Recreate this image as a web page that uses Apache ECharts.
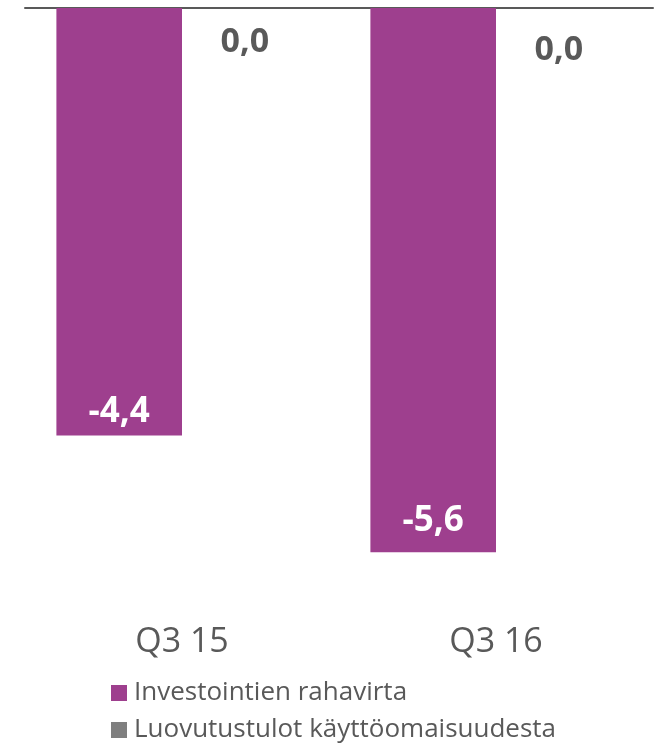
<!DOCTYPE html>
<html>
<head>
<meta charset="utf-8">
<script src="https://cdn.jsdelivr.net/npm/echarts@6/dist/echarts.min.js"></script>
<style>
  html, body { margin: 0; padding: 0; background: #fff; }
  #chart { width: 662px; height: 745px; }
</style>
</head>
<body>
<div id="chart"></div>
<script>
// Quarterly cash flow figures (EUR million)
const categories = ['Q3 15', 'Q3 16'];
const investointienRahavirta = [-4.4, -5.6];
const luovutustulot = [0.0, 0.0];
const seriesNames = ['Investointien rahavirta', 'Luovutustulot käyttöomaisuudesta'];

const FONT = '"Open Sans", sans-serif';
const TEXT = '#595959';
const PURPLE = '#9E3F8E';
const GREY = '#7F7F7F';

const fmt = p => p.value.toFixed(1).replace('.', ',');

const chart = echarts.init(document.getElementById('chart'));
chart.setOption({
  animation: false,
  textStyle: { fontFamily: FONT },
  grid: { left: 25, right: 9, top: 8, bottom: 154 },
  xAxis: [
    {
      type: 'category',
      data: categories,
      position: 'top',
      axisLine: { show: true, onZero: false, lineStyle: { color: '#595959', width: 2 } },
      axisTick: { show: false },
      axisLabel: { show: false }
    },
    {
      type: 'category',
      data: categories,
      position: 'bottom',
      axisLine: { show: false },
      axisTick: { show: false },
      axisLabel: {
        margin: 34,
        color: TEXT,
        fontFamily: FONT,
        fontSize: 34
      }
    }
  ],
  yAxis: {
    type: 'value',
    min: -6,
    max: 0,
    show: false,
    splitLine: { show: false }
  },
  legend: {
    orient: 'vertical',
    left: 111,
    top: 680,
    width: 540,
    height: 120,
    padding: 0,
    itemWidth: 16,
    itemHeight: 16,
    itemGap: 11,
    icon: 'rect',
    data: seriesNames,
    textStyle: {
      color: TEXT,
      fontFamily: FONT,
      fontSize: 26,
      lineHeight: 26,
      padding: [0, 0, 0, 2]
    }
  },
  series: [
    {
      name: seriesNames[0],
      type: 'bar',
      xAxisIndex: 0,
      barGap: '0%',
      barCategoryGap: '20%',
      itemStyle: { color: PURPLE },
      label: {
        show: true,
        position: 'insideBottom',
        distance: 12,
        color: '#ffffff',
        fontWeight: 'bold',
        fontFamily: FONT,
        fontSize: 35,
        lineHeight: 35,
        formatter: fmt
      },
      data: [
        { value: investointienRahavirta[0], label: { distance: 6 } },
        { value: investointienRahavirta[1], label: { distance: 14 } }
      ]
    },
    {
      name: seriesNames[1],
      type: 'bar',
      xAxisIndex: 0,
      barGap: '0%',
      barCategoryGap: '20%',
      itemStyle: { color: GREY },
      label: {
        show: true,
        position: 'bottom',
        color: TEXT,
        fontWeight: 'bold',
        fontFamily: FONT,
        fontSize: 34,
        lineHeight: 34,
        formatter: fmt
      },
      data: [
        { value: luovutustulot[0], label: { distance: 17 } },
        { value: luovutustulot[1], label: { distance: 25 } }
      ]
    }
  ]
});
</script>
</body>
</html>
